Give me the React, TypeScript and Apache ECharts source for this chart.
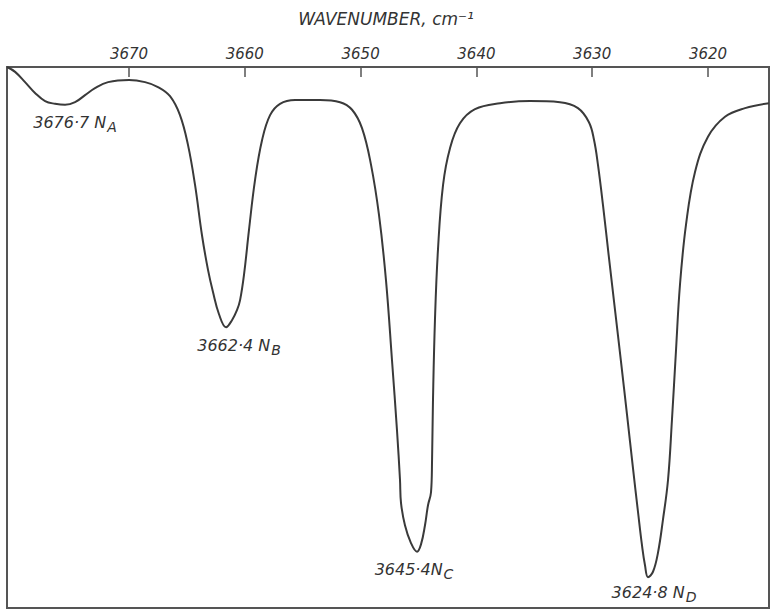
import React, { useEffect, useRef } from 'react';
import * as echarts from 'echarts';

// Wavenumber (cm-1) of each traced point, left to right (high to low wavenumber)
const wavenumbers = [
  3680.54, 3679.84, 3678.98, 3678.12, 3677.25, 3676.39, 3675.53, 3674.66, 3673.80, 3672.94,
  3671.81, 3670.00, 3668.62, 3667.50, 3666.46, 3665.60, 3664.91, 3664.30, 3663.70, 3663.18,
  3662.75, 3662.23, 3661.62, 3661.11, 3660.67, 3660.41, 3660.07, 3659.64, 3659.12, 3658.51,
  3657.82, 3656.96, 3655.66, 3653.51, 3651.78, 3650.74, 3649.88, 3649.10, 3648.41, 3647.81,
  3647.29, 3646.86, 3646.60, 3646.51, 3646.17, 3645.65, 3645.13, 3644.78, 3644.44, 3644.18,
  3643.92, 3643.83, 3643.75, 3643.58, 3643.32, 3642.88, 3642.28, 3641.42, 3640.12, 3637.96,
  3635.37, 3632.78, 3631.23, 3630.28, 3629.84, 3629.50, 3629.07, 3628.55, 3628.03, 3627.51,
  3626.99, 3626.48, 3626.04, 3625.70, 3625.44, 3625.18, 3624.75, 3624.32, 3623.89, 3623.45,
  3623.11, 3622.76, 3622.42, 3621.90, 3621.12, 3620.00, 3618.53, 3616.80, 3614.73,
];

// Relative transmission (%) at each point
const transmission = [
  100.0, 99.1, 97.2, 95.2, 93.7, 93.2, 93.0, 93.5, 94.8, 96.1,
  97.2, 97.6, 97.2, 96.3, 94.6, 91.1, 85.6, 78.2, 68.9, 62.5,
  58.4, 54.3, 51.9, 53.2, 55.1, 56.9, 61.6, 69.9, 79.1, 86.5,
  91.1, 93.2, 93.9, 93.9, 93.5, 92.1, 88.7, 81.9, 72.6, 60.6,
  45.8, 32.9, 23.7, 19.4, 15.3, 12.0, 10.4, 11.8, 15.3, 19.0,
  21.4, 27.4, 38.4, 53.2, 66.2, 78.2, 85.0, 89.6, 92.2, 93.3,
  93.7, 93.5, 92.4, 89.8, 86.5, 81.9, 74.5, 64.7, 55.1, 45.5,
  35.7, 25.9, 17.7, 11.6, 7.9, 5.7, 6.7, 10.2, 16.3, 23.7,
  34.8, 47.7, 59.7, 70.8, 80.6, 87.1, 90.8, 92.4, 93.3,
];

const tickValues = [3620, 3630, 3640, 3650, 3660, 3670];
const axisMin = 3614.73;
const axisMax = 3680.54;

// Band minima and their annotations
const peakWavenumbers = [3675.53, 3661.62, 3645.13, 3625.18];
const peakTransmission = [93.0, 51.9, 10.4, 5.7];
const peakValues = ['3676·7', '3662·4', '3645·4', '3624·8'];
const peakGaps = [' ', ' ', '', ' '];
const peakBands = ['A', 'B', 'C', 'D'];

const labelOffsets = [
  [10, 18],
  [13, 18],
  [-3, 18],
  [6, 15],
];

const FONT = 'DejaVu Sans';
const INK = '#333';

export default function App() {
  const ref = useRef<HTMLDivElement>(null);

  useEffect(() => {
    if (!ref.current) return;
    const chart = echarts.init(ref.current, undefined, { renderer: 'svg' });

    const curve = wavenumbers.map((w, i) => [w, transmission[i]]);
    const peaks = peakWavenumbers.map((w, i) => ({
      value: [w, peakTransmission[i]],
      label: {
        offset: labelOffsets[i],
        formatter: `{n|${peakValues[i]}${peakGaps[i]}N}{s|${peakBands[i]}}`,
      },
    }));

    chart.setOption({
      animation: false,
      backgroundColor: '#fff',
      title: {
        text: 'WAVENUMBER, cm⁻¹',
        left: 'center',
        top: 5,
        textStyle: {
          fontFamily: FONT,
          fontStyle: 'italic',
          fontWeight: 'normal',
          fontSize: 17,
          color: INK,
        },
      },
      grid: {
        left: 7,
        right: 3,
        top: 67,
        bottom: 2,
        show: true,
        borderColor: '#555',
        borderWidth: 2,
      },
      xAxis: {
        type: 'value',
        position: 'top',
        inverse: true,
        min: axisMin,
        max: axisMax,
        axisLine: { show: true, onZero: false, lineStyle: { color: '#555', width: 2 } },
        axisTick: {
          show: true,
          inside: true,
          length: 10,
          customValues: tickValues,
          lineStyle: { color: '#555', width: 1.5 },
        },
        axisLabel: {
          customValues: tickValues,
          margin: 6,
          fontFamily: FONT,
          fontStyle: 'italic',
          fontSize: 15,
          color: INK,
          formatter: (v: number) => String(Math.round(v)),
        },
        splitLine: { show: false },
      },
      yAxis: { type: 'value', min: 0, max: 100, show: false },
      series: [
        {
          type: 'line',
          data: curve,
          symbol: 'none',
          smooth: 0.4,
          lineStyle: { color: '#3a3a3a', width: 2 },
          silent: true,
        },
        {
          type: 'scatter',
          data: peaks,
          symbolSize: 0,
          silent: true,
          itemStyle: { opacity: 1 },
          label: {
            show: true,
            position: 'inside',
            opacity: 1,
            rich: {
              n: { fontFamily: FONT, fontStyle: 'italic', fontSize: 16, color: INK },
              s: {
                fontFamily: FONT,
                fontStyle: 'italic',
                fontSize: 14,
                color: INK,
                padding: [9, 0, 0, 1],
              },
            },
          },
        },
      ],
    });

    return () => chart.dispose();
  }, []);

  return (
    <div
      ref={ref}
      style={{ position: 'fixed', left: 0, top: 0, width: 772, height: 610, background: '#fff' }}
    />
  );
}
